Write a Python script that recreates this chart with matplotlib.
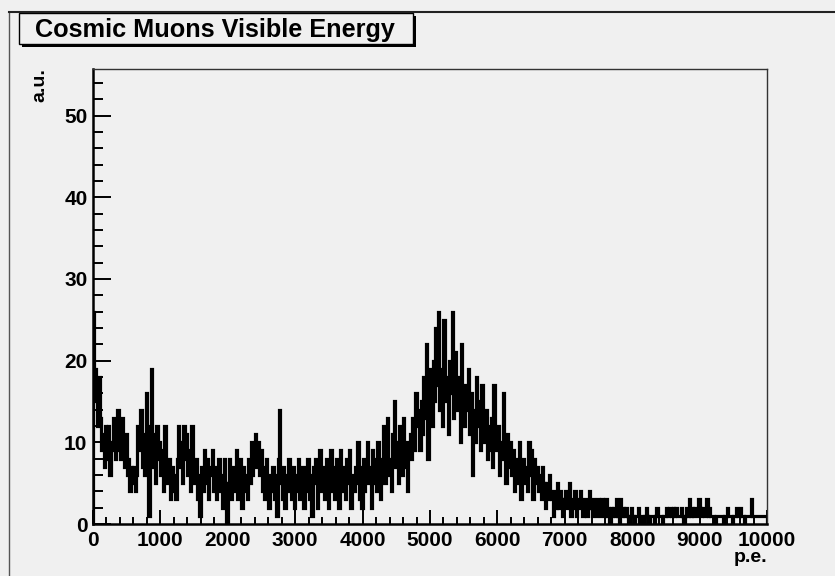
import numpy as np
import matplotlib
matplotlib.use('Agg')
import matplotlib.pyplot as plt
from matplotlib.patches import Rectangle
from matplotlib.lines import Line2D
from matplotlib.ticker import MultipleLocator

plt.rcParams['font.family'] = ['Liberation Sans', 'DejaVu Sans']
plt.rcParams['font.weight'] = 'bold'

title = "Cosmic Muons Visible Energy"
x_label = "p.e."
y_label = "a.u."

# visible energy histogram, 500 bins of 20 p.e. between 0 and 10000
pe_min, pe_max, n_bins = 0, 10000, 500

counts_0k = [26, 19, 15, 12, 18, 13, 9, 11, 7, 12, 8, 12, 6, 10, 9, 13, 8, 11, 14, 9,
             8, 13, 10, 7, 11, 6, 8, 4, 7, 5, 7, 4, 6, 12, 9, 14, 7, 11, 6, 16,
             9, 1, 12, 19, 7, 11, 5, 12, 8, 10]
counts_1k = [6, 9, 4, 12, 7, 5, 8, 3, 7, 4, 6, 3, 8, 12, 7, 10, 5, 12, 8, 11,
             6, 9, 4, 12, 7, 5, 8, 3, 6, 1, 7, 4, 9, 5, 8, 3, 7, 6, 9, 4,
             7, 3, 6, 8, 4, 6, 2, 8, 5, 0]
counts_2k = [5, 8, 3, 7, 4, 6, 9, 3, 5, 8, 2, 7, 4, 6, 3, 8, 5, 10, 6, 9,
             11, 7, 10, 6, 9, 4, 7, 3, 8, 5, 2, 6, 4, 7, 3, 6, 1, 8, 14, 5,
             3, 7, 2, 6, 4, 8, 5, 3, 7, 2]
counts_3k = [6, 4, 8, 3, 7, 5, 2, 7, 4, 8, 3, 6, 1, 7, 5, 8, 2, 6, 9, 4,
             7, 3, 5, 8, 2, 6, 9, 4, 7, 3, 8, 5, 2, 9, 6, 4, 7, 3, 8, 5,
             9, 2, 6, 4, 7, 5, 10, 3, 7, 2]
counts_4k = [8, 4, 6, 10, 5, 7, 2, 9, 5, 8, 4, 10, 6, 3, 8, 12, 5, 9, 13, 6,
             8, 4, 11, 15, 7, 10, 5, 12, 8, 6, 13, 7, 10, 4, 9, 11, 8, 13, 9, 16,
             12, 14, 9, 15, 11, 18, 13, 22, 8, 16]
counts_5k = [19, 12, 20, 15, 24, 17, 26, 14, 19, 12, 25, 15, 18, 11, 20, 16, 26, 13, 21, 17,
             14, 18, 10, 22, 15, 12, 17, 14, 19, 11, 16, 6, 14, 10, 18, 12, 15, 9, 17, 13,
             10, 14, 8, 12, 9, 13, 7, 17, 11, 9]
counts_6k = [12, 6, 10, 8, 16, 9, 5, 11, 7, 10, 6, 9, 4, 8, 5, 7, 10, 3, 6, 8,
             5, 7, 4, 10, 6, 9, 3, 8, 5, 7, 4, 6, 3, 7, 5, 2, 5, 3, 6, 4,
             3, 1, 4, 2, 5, 2, 4, 3, 1, 3]
counts_7k = [4, 2, 3, 5, 1, 3, 2, 4, 1, 3, 2, 4, 3, 1, 2, 3, 1, 2, 4, 2,
             1, 3, 2, 1, 3, 2, 1, 3, 2, 1, 3, 1, 2, 0, 2, 1, 2, 1, 3, 1,
             0, 3, 1, 2, 1, 2, 1, 0, 1, 2]
counts_8k = [1, 0, 1, 1, 2, 0, 1, 1, 0, 1, 2, 1, 0, 1, 1, 1, 0, 1, 2, 1,
             1, 1, 0, 1, 1, 2, 1, 2, 2, 1, 2, 1, 2, 1, 1, 1, 2, 1, 0, 1,
             2, 1, 3, 1, 2, 1, 2, 2, 1, 3]
counts_9k = [2, 1, 2, 1, 1, 3, 1, 2, 1, 1, 1, 0, 1, 1, 1, 1, 1, 0, 1, 1,
             2, 1, 1, 1, 0, 1, 1, 2, 1, 1, 2, 1, 1, 0, 1, 1, 1, 1, 3, 1,
             1, 1, 1, 1, 1, 1, 1, 1, 1, 1]

counts = np.array(counts_0k + counts_1k + counts_2k + counts_3k + counts_4k +
                  counts_5k + counts_6k + counts_7k + counts_8k + counts_9k)
edges = np.linspace(pe_min, pe_max, n_bins + 1)

bg = '#f0f0f0'
W, H = 835, 576
fig = plt.figure(figsize=(W / 100, H / 100), dpi=100, facecolor=bg)
ax = fig.add_axes([93 / W, 1 - 524 / H, (767 - 93) / W, (524 - 69) / H], facecolor=bg)

ax.stairs(counts, edges, color='black', linewidth=2.3, baseline=0)

ax.set_xlim(pe_min, pe_max)
ax.set_ylim(0, 55.7)
ax.xaxis.set_major_locator(MultipleLocator(1000))
ax.xaxis.set_minor_locator(MultipleLocator(200))
ax.yaxis.set_major_locator(MultipleLocator(10))
ax.yaxis.set_minor_locator(MultipleLocator(2))

ax.tick_params(axis='both', which='both', direction='in', color='black', width=1.4,
               labelsize=15)
ax.tick_params(axis='x', which='major', length=10, pad=5)
ax.tick_params(axis='x', which='minor', length=5)
ax.tick_params(axis='y', which='major', length=13, pad=4)
ax.tick_params(axis='y', which='minor', length=7)
for lab in ax.get_xticklabels() + ax.get_yticklabels():
    lab.set_fontweight('bold')

for side in ['top', 'right']:
    ax.spines[side].set_linewidth(1.0)
    ax.spines[side].set_color('#333333')
for side in ['left', 'bottom']:
    ax.spines[side].set_linewidth(1.8)
    ax.spines[side].set_color('black')

# axis titles, ROOT style: right-aligned at the axis ends
fig.text(767 / W, 1 - 558 / H, x_label, ha='right', va='center', fontsize=14,
         fontweight='bold')
fig.text(40 / W, 1 - 68 / H, y_label, ha='center', va='top', rotation=90,
         fontsize=14, fontweight='bold')

# pad border
fig.add_artist(Line2D([9 / W, 9 / W], [0, 1 - 12 / H], transform=fig.transFigure,
                      color='#555555', linewidth=1.0))
fig.add_artist(Line2D([9 / W, 1], [1 - 12 / H, 1 - 12 / H], transform=fig.transFigure,
                      color='#222222', linewidth=1.5))

# title box with drop shadow
bx0, by0, bx1, by1 = 19, 44, 413, 13
fig.add_artist(Rectangle(((bx0 + 3) / W, 1 - (by0 + 3) / H), (bx1 - bx0) / W,
                         (by0 - by1) / H, transform=fig.transFigure,
                         facecolor='black', edgecolor='none'))
fig.add_artist(Rectangle((bx0 / W, 1 - by0 / H), (bx1 - bx0) / W, (by0 - by1) / H,
                         transform=fig.transFigure, facecolor=bg, edgecolor='black',
                         linewidth=1.0))
fig.text(35 / W, 1 - 30 / H, title, ha='left', va='center', fontsize=18.2,
         fontweight='bold')

fig.savefig('out.png', dpi=100, facecolor=bg)
